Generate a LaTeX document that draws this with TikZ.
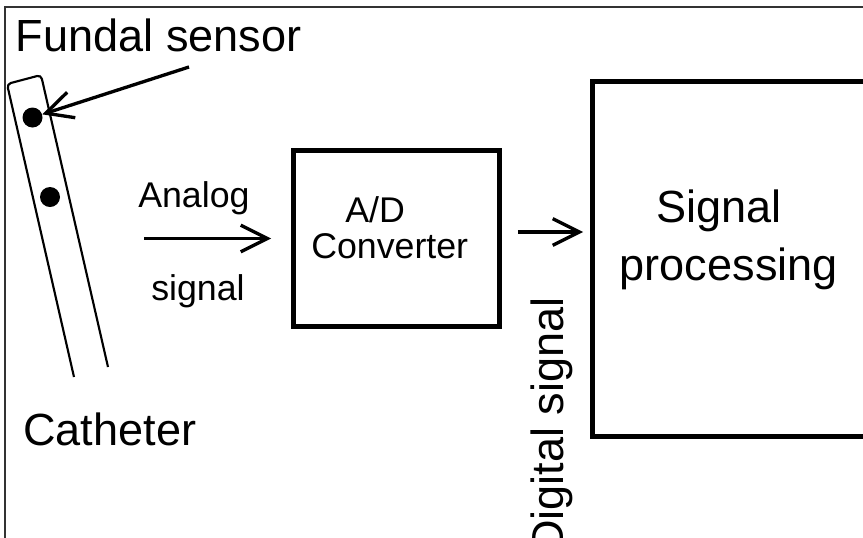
\documentclass[tikz,border=0pt]{standalone}
\usepackage{fontspec}
\setmainfont{Liberation Sans}
\usetikzlibrary{positioning, arrows.meta}

\begin{document}
\begin{tikzpicture}[
        x=0.75pt, y=-0.75pt,
        >={Straight Barb[length=20pt, width=20pt]},
        block/.style={draw, line width=3.6pt, rectangle, inner sep=0pt},
        dot/.style={circle, fill=black, minimum size=15pt, inner sep=0pt},
        tube/.style={line width=1.6pt, rounded corners=3pt},
        sig/.style={->, line width=2.5pt},
        big/.style={inner sep=0pt, anchor=base west, font=\fontsize{33.8}{40}\selectfont},
        small/.style={inner sep=0pt, anchor=base west, font=\fontsize{26.8}{32}\selectfont},
    ]
    \useasboundingbox (0,0) rectangle (863,537);
    \clip (0,0) rectangle (863,537);

    % Outer frame
    \draw[black!80, line width=1.6pt] (5,560) -- (5,7) -- (880,7);

    % Draw the catheter with its two sensors
    \draw[tube] (74,377) -- (7,84) -- (41,75) -- (108,367);
    \node[dot] (sens1) at (32.5,117.5) {};
    \node[dot] (sens2) at (50,197) {};

    % Labels on the catheter side
    \node[big] (fundal) at (15.5,51) {Fundal sensor};
    \node[big] (cath) at (23,445) {Catheter};
    \coordinate (fsTail) at (189,67);
    \draw[sig] (fsTail) -- (sens1);

    % Draw the two blocks
    \node[block, minimum width=154.5pt, minimum height=132pt] (adc) at (396.5,238.5) {};
    \node[block, minimum width=240pt, minimum height=266.25pt] (dsp) at (752.5,259) {};

    \node[small] (adcA) at (345,222) {A/D};
    \node[small] (adcB) at (311,258) {Converter};
    \node[big] (dspA) at (656,222) {Signal};
    \node[big] (dspB) at (619.5,280) {processing};

    % Analog input into the converter
    \coordinate (ain) at (144,238.5);
    \node[small] (anA) at (138,207) {Analog};
    \node[small] (anB) at (151,300) {signal};
    \draw[sig, shorten >=15pt] (ain) -- (adc.west);

    % Digital output into the processing block
    \path (adc.east) ++(0,-6.5) coordinate (dout);
    \draw[sig, shorten <=12pt, shorten >=5.25pt] (dout) -- (dout -| dsp.west);
    \node[big, rotate=90, anchor=base east] (dig) at (563,297) {Digital signal};
\end{tikzpicture}
\end{document}
